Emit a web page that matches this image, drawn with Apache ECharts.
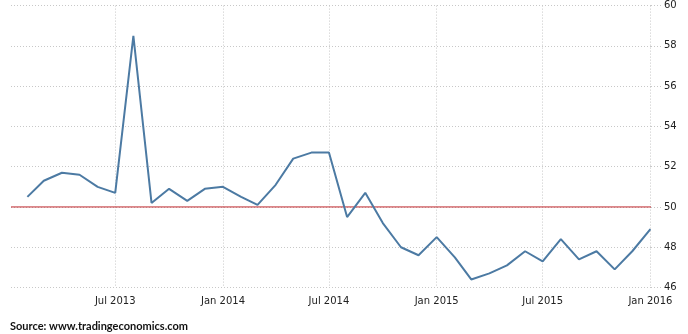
<!DOCTYPE html>
<html><head><meta charset="utf-8">
<script src="https://cdn.jsdelivr.net/npm/echarts@6/dist/echarts.min.js"></script>
<style>html,body{margin:0;padding:0;background:#fff}#c{width:688px;height:334px}</style>
</head><body><div id="c"></div>
<script>
const months = ['2013-02','2013-03','2013-04','2013-05','2013-06','2013-07','2013-08','2013-09','2013-10','2013-11','2013-12',
'2014-01','2014-02','2014-03','2014-04','2014-05','2014-06','2014-07','2014-08','2014-09','2014-10','2014-11','2014-12',
'2015-01','2015-02','2015-03','2015-04','2015-05','2015-06','2015-07','2015-08','2015-09','2015-10','2015-11','2015-12','2016-01'];
const values = [50.5,51.3,51.7,51.6,51.0,50.7,58.5,50.2,50.9,50.3,50.9,
51.0,50.5,50.1,51.1,52.4,52.7,52.7,49.5,50.7,49.2,48.0,47.6,
48.5,47.5,46.4,46.7,47.1,47.8,47.3,48.4,47.4,47.8,46.9,47.8,48.9];
const tickMonths = ['2013-07','2014-01','2014-07','2015-01','2015-07','2016-01'];
const threshold = 50;
const MN = ['Jan','Feb','Mar','Apr','May','Jun','Jul','Aug','Sep','Oct','Nov','Dec'];
function ts(m){const [y,mo]=m.split('-').map(Number);return Date.UTC(y,mo-1,1);}
const DAY = 86400000;
const tickTs = tickMonths.map(ts);
const xMin = ts('2013-01')+3*DAY, xMax = ts('2016-01')+1*DAY;
const chart = echarts.init(document.getElementById('c'));
chart.setOption({
  animation:false,
  grid:{left:11,right:37,top:5.6,bottom:46.5,containLabel:false},
  xAxis:{type:'value',min:xMin,max:xMax,
    axisLine:{show:false},
    axisTick:{show:false,customValues:tickTs},
    splitLine:{show:true,lineStyle:{color:'#c8c8c8',type:[1,2],width:1}},
    axisLabel:{customValues:tickTs,margin:9,color:'#222',fontFamily:'DejaVu Sans',fontSize:10,
      hideOverlap:false,showMinLabel:true,showMaxLabel:true,
      formatter:function(v){const d=new Date(v);return MN[d.getUTCMonth()]+' '+d.getUTCFullYear();}}
  },
  yAxis:{type:'value',position:'right',min:46,max:60,interval:2,
    axisLine:{show:false},
    axisTick:{show:true,length:10,inside:false,lineStyle:{color:'#c8c8c8',type:[1,2]}},
    splitLine:{show:true,lineStyle:{color:'#c8c8c8',type:[1,2],width:1}},
    axisLabel:{margin:13,color:'#222',fontFamily:'DejaVu Sans',fontSize:10}
  },
  graphic:[{type:'text',left:10,top:321,style:{text:'Source: www.tradingeconomics.com',fill:'#111',font:'bold 11px Lato'}}],
  series:[
    {type:'line',data:[[xMin,threshold],[xMax,threshold]],showSymbol:false,silent:true,
      lineStyle:{color:'#c0262b',width:1},z:1},
    {type:'line',data:months.map((m,i)=>[ts(m),values[i]]),showSymbol:false,
      lineStyle:{color:'#4c7aa3',width:2},z:2}
  ]
});
</script></body></html>
